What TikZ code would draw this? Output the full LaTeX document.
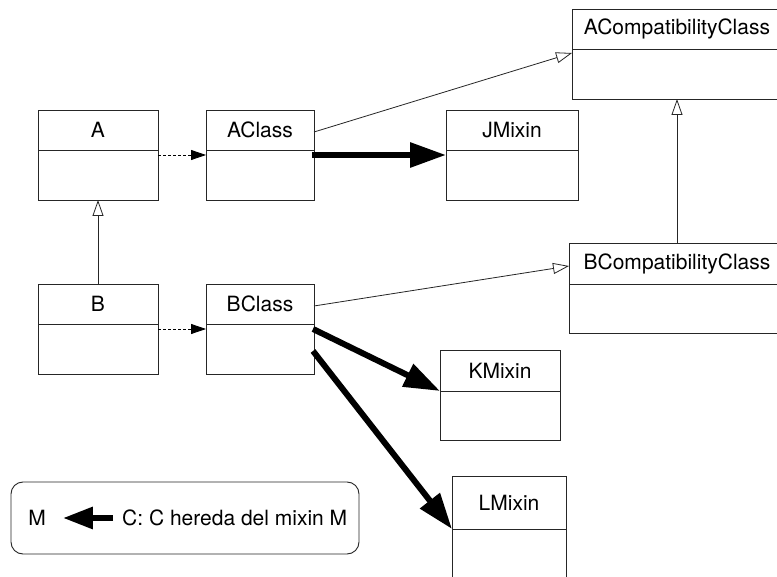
\documentclass[tikz,border=0pt]{standalone}
\usepackage{fontspec}
\setmainfont{TeX Gyre Heros}
\usetikzlibrary{arrows.meta,calc}

\tikzset{
  cls/.style={draw=black!85, line width=0.9pt, fill=white, inner sep=0pt, outer sep=0pt,
              rectangle, anchor=north west},
  divider/.style={draw=black!85, line width=0.9pt},
  ttl/.style={inner sep=0pt, font=\fontsize{21}{25}\selectfont},
  realizes/.style={draw=black, line width=0.8pt, dash pattern=on 3pt off 2pt,
                   -{Triangle[length=15pt,width=10pt]}},
  inherits/.style={draw=black!85, line width=0.8pt,
                   -{Triangle[open,length=16pt,width=11pt,fill=white]}},
  mixin/.style={draw=black, line width=6pt, line cap=butt,
                -{Triangle[length=36pt,width=24pt]}},
  legendbox/.style={draw=black!85, line width=0.9pt, rounded corners=12pt,
                    minimum width=348pt, minimum height=72pt, inner sep=0pt},
}

% one UML class: name, left, top, width, height, compartment height, title
\newcommand\umlclass[7]{%
  \node[cls, minimum width=#4pt, minimum height=#5pt] (#1) at (#2,#3) {};
  \draw[divider] ($(#1.north west)+(0,#6)$) -- ($(#1.north east)+(0,#6)$);
  \node[ttl] (#1-t) at ($(#1.north)+(0,#6/2)$) {#7};
}

\begin{document}
\begin{tikzpicture}[x=1pt, y=-1pt]
  \clip (0,0) rectangle (777,577);
  \fill[white] (0,0) rectangle (777,577);

  % classes
  \umlclass{A}{38}{110}{120}{90}{40}{A}
  \umlclass{B}{38}{284}{120}{90}{40}{B}
  \umlclass{AC}{206}{110}{108}{90}{40}{AClass}
  \umlclass{BC}{206}{284}{108}{90}{40}{BClass}
  \umlclass{JM}{446}{110}{132}{90}{40}{JMixin}
  \umlclass{KM}{440}{350}{120}{90}{41}{KMixin}
  \umlclass{LM}{452}{476}{114}{120}{53}{LMixin}
  \umlclass{ACC}{572}{9}{210}{90}{40}{ACompatibilityClass}
  \umlclass{BCC}{569}{243}{216}{90}{41}{BCompatibilityClass}

  % dependencies
  \draw[realizes] ($(A.north east)+(0,45)$) -- ($(AC.north west)+(0,45)$);
  \draw[realizes] ($(B.north east)+(0,45)$) -- ($(BC.north west)+(0,45)$);

  % generalisations
  \draw[inherits] (B.north) -- (A.south);
  \draw[inherits] (BCC.north) -- (ACC.south);
  \draw[inherits] ($(AC.north east)+(0,22)$) -- ($(ACC.north west)+(0,44)$);
  \draw[inherits] ($(BC.north east)+(0,22)$) -- ($(BCC.north west)+(0,23)$);

  % mixins
  \draw[mixin] ($(AC.north east)+(-2,45)$) -- ($(JM.north west)+(0,45)$);
  \draw[mixin] ($(BC.north east)+(-1,45)$) -- ($(KM.north west)+(0,41)$);
  \draw[mixin] ($(BC.north east)+(-1,67)$) -- ($(LM.north west)+(0,53)$);

  % legend
  \node[legendbox] (legend) at (185,518) {};
  \node[ttl] (lm) at (37,518) {M};
  \node[ttl, anchor=west] (lt) at (122,518) {C: C hereda del mixin M};
  \draw[draw=black, line width=6pt, -{Triangle[length=30pt,width=21pt]},
        shorten <=9pt, shorten >=17pt] (lt.west) -- (lm.east);
\end{tikzpicture}
\end{document}
